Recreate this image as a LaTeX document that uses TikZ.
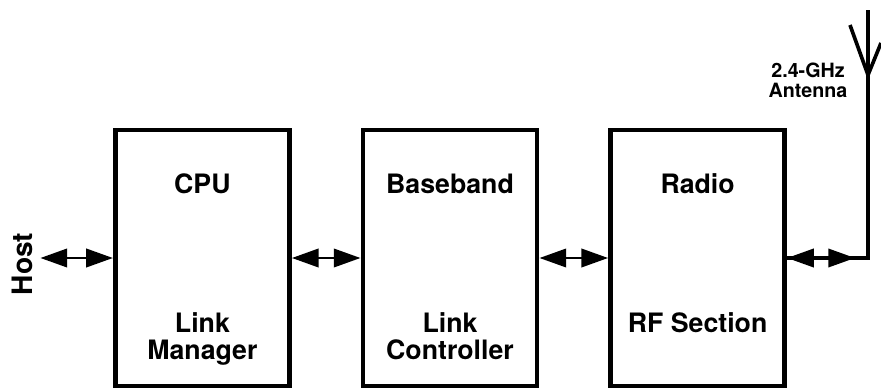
\documentclass[tikz,border=0pt]{standalone}
\usepackage{fontspec}
\setmainfont{TeX Gyre Heros}
\usetikzlibrary{arrows.meta,positioning}

\begin{document}
\begin{tikzpicture}[line join=miter,
    box_style/.style = {draw, rectangle, line width=3.5pt, minimum width=4.35cm, minimum height=6.4cm, inner sep=0pt},
    text_style/.style = {font=\fontsize{19}{19.5}\selectfont\bfseries, align=center, inner sep=0pt},
    arrow_style/.style = {{Triangle[length=19pt,width=13pt]}-{Triangle[length=19pt,width=13pt]}, line width=2pt},
    antenna_style/.style = {line width=2.2pt}]

\useasboundingbox (0,0) rectangle (22.025,9.75);

% the three blocks
\node[box_style] (1) at (5.06,3.3) {};
\node[box_style, right of=1, node distance=6.19cm] (2) {};
\node[box_style, right of=2, node distance=6.19cm] (3) {};

% block texts
\node[text_style, below=1.15cm of 1.north] (1a) {CPU};
\node[text_style, below=1.35cm of 1.center] (1b) {Link\\Manager};
\node[text_style, below=1.15cm of 2.north] (2a) {Baseband};
\node[text_style, below=1.35cm of 2.center] (2b) {Link\\Controller};
\node[text_style, below=1.15cm of 3.north] (3a) {Radio};
\node[text_style, below=1.35cm of 3.center] (3b) {RF Section};

% host label
\node[text_style, font=\fontsize{20}{20}\selectfont\bfseries, rotate=90, inner sep=5.5pt] (4) at (0.55,3.15) {Host};

% antenna label
\node[align=center, font=\fontsize{14}{14.5}\selectfont\bfseries] (5) at (20.2,7.75) {2.4-GHz\\Antenna};

% antenna points
\coordinate (feed) at (21.375,3.3);
\coordinate (vertex) at (21.7,7.875);
\coordinate (top) at (21.7,9.5);
\coordinate (armleft) at (21.25,9.125);
\coordinate (armright) at (22.025,8.675);

% Host to CPU
\draw[arrow_style] (4.south |- 1.west) -- (1.west);

% CPU to baseband
\draw[arrow_style] (1) -- (2);

% Baseband to radio
\draw[arrow_style] (2) -- (3);

% Radio to antenna
\draw[arrow_style] (3) -- (feed);
\draw[antenna_style] (3.east) -| (top);

% antenna arms
\draw[antenna_style, line width=2.6pt] (armleft) -- (vertex) -- (armright);

\end{tikzpicture}
\end{document}
